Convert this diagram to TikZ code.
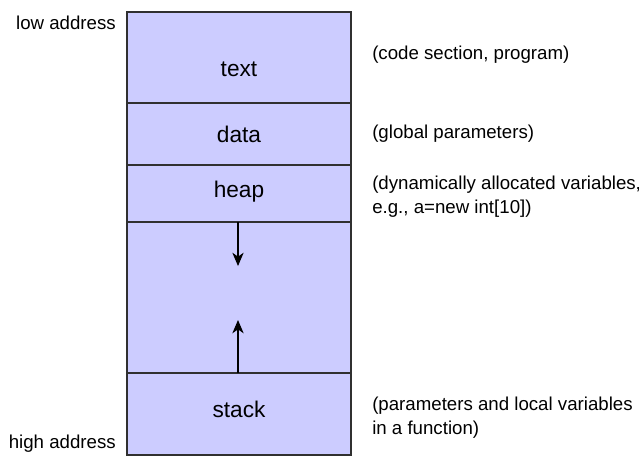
\documentclass[tikz,border=0pt]{standalone}
\usepackage{fontspec}
\setmainfont{Liberation Sans}
\usetikzlibrary{positioning,arrows.meta}
\definecolor{segfill}{HTML}{CCCCFF}
\definecolor{segline}{HTML}{303030}
\tikzset{
  seg/.style={draw=segline, fill=segfill, line width=.8pt, minimum width=168pt,
    outer sep=0pt, inner sep=0pt},
  segname/.style={inner sep=0pt, font=\fontsize{17}{20}\selectfont},
  note/.style={anchor=west, align=left, inner sep=0pt, font=\fontsize{14}{18}\selectfont},
  addr/.style={anchor=east, inner sep=0pt, font=\fontsize{14}{16}\selectfont},
  growarrow/.style={-{Stealth[length=10pt,width=8.5pt,inset=3pt]}, line width=.8pt}
}
\begin{document}
\begin{tikzpicture}[x=.75pt,y=-.75pt]
  \useasboundingbox (0,0) rectangle (641,461);
  % memory segments, top to bottom
  \node[seg, minimum height=68.25pt, anchor=north] (text) at (239,12) {};
  \node[seg, minimum height=46.5pt, below=0pt of text] (data) {};
  \node[seg, minimum height=42.75pt, below=0pt of data] (heap) {};
  \node[seg, minimum height=113.25pt, below=0pt of heap] (free) {};
  \node[seg, minimum height=61.5pt, below=0pt of free] (stack) {};
  \node[segname] (textname) at (239,69) {text};
  \node[segname] (dataname) at (239,134) {data};
  \node[segname] (heapname) at (239,192) {heap};
  \node[segname] (stackname) at (239,409) {stack};
  % growth arrows
  \coordinate (heaptip) at (238,266);
  \coordinate (stacktip) at (238,320);
  \draw[growarrow] (heap.south -| heaptip) -- (heaptip);
  \draw[growarrow] (stack.north -| stacktip) -- (stacktip);
  % address ends
  \node[addr] (low) at (116,23) {low address};
  \node[addr] (high) at (116,444) {high address};
  % comments
  \node[note] (ctext) at (372,55) {(code section, program)};
  \node[note] (cdata) at (372,134) {(global parameters)};
  \node[note] (cheap) at (372,197) {(dynamically allocated variables,\\e.g., a=new int[10])};
  \node[note] (cstack) at (372,418) {(parameters and local variables\\in a function)};
\end{tikzpicture}
\end{document}
